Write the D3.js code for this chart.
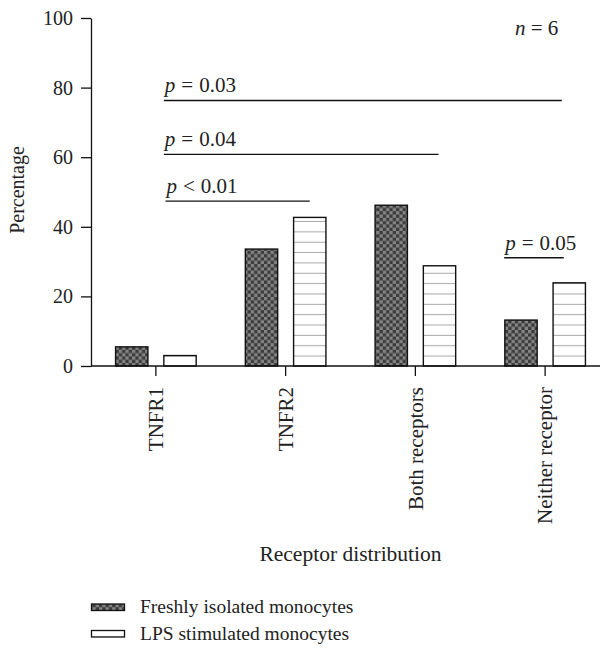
<!DOCTYPE html>
<html>
<head>
<meta charset="utf-8">
<script src="https://cdn.jsdelivr.net/npm/d3@7"></script>
<style>
  body { margin: 0; background: #fff; }
  svg text { font-family: "Liberation Serif", "Times New Roman", serif; fill: #222; }
</style>
</head>
<body>
<script>
// categories and series
const categories = ["TNFR1", "TNFR2", "Both receptors", "Neither receptor"];
const seriesNames = ["Freshly isolated monocytes", "LPS stimulated monocytes"];
const freshValues = [5.5, 33.6, 46.2, 13.2];
const lpsValues = [3.0, 42.7, 28.8, 23.9];
const yTicks = [0, 20, 40, 60, 80, 100];

// significance bars: level in percent units, ends given as bar + fraction of bar width
const sigLabels = ["0.03", "0.04", "0.01", "0.05"];
const sigOps = ["=", "=", "<", "="];
const sigLevels = [76.3, 60.8, 47.4, 31.1];
const sigFrom = [[0, 1, 0], [0, 1, 0], [0, 1, 0.05], [3, 0, -0.02]];
const sigTo = [[3, 1, 0.27], [2, 1, 0.47], [1, 1, 0.5], [3, 1, 0.33]];

const W = 606, H = 650;
const plotLeft = 91, plotRight = 610, plotTop = 18, plotBottom = 366;

const svg = d3.select("body").append("svg")
    .attr("width", W)
    .attr("height", H);

const defs = svg.append("defs");

// checker pattern for freshly isolated
const chk = defs.append("pattern")
    .attr("id", "checker")
    .attr("patternUnits", "userSpaceOnUse")
    .attr("width", 6.6).attr("height", 6.6);
chk.append("rect").attr("width", 6.6).attr("height", 6.6).attr("fill", "#3b3b3b");
chk.append("rect").attr("width", 3.3).attr("height", 3.3).attr("fill", "#858585");
chk.append("rect").attr("x", 3.3).attr("y", 3.3).attr("width", 3.3).attr("height", 3.3).attr("fill", "#858585");

// horizontal line pattern for LPS
function hatch(id, y0) {
    const p = defs.append("pattern")
        .attr("id", id)
        .attr("patternUnits", "userSpaceOnUse")
        .attr("width", 10).attr("height", 10.35)
        .attr("patternTransform", "translate(0," + y0 + ")");
    p.append("rect").attr("width", 10).attr("height", 10.35).attr("fill", "#fff");
    p.append("rect").attr("y", 9.35).attr("width", 10).attr("height", 1.6).attr("fill", "#a8a8a8");
}
hatch("lines", plotBottom + 0.9);
hatch("lines-legend", 637.6);

const x = d3.scaleBand()
    .domain(categories)
    .range([plotLeft, plotRight])
    .paddingInner(0).paddingOuter(0);

const xs = d3.scaleBand()
    .domain(seriesNames)
    .range([-40.3, 40.3])
    .paddingInner(0.33);

const y = d3.scaleLinear()
    .domain([0, 100])
    .range([plotBottom, plotTop]);

const seriesFill = ["url(#checker)", "url(#lines)"];
const seriesValues = [freshValues, lpsValues];

// bars
seriesNames.forEach((s, si) => {
    svg.append("g")
        .selectAll("rect")
        .data(categories)
        .join("rect")
        .attr("x", d => x(d) + x.bandwidth() / 2 + xs(s))
        .attr("y", (d, i) => y(seriesValues[si][i]))
        .attr("width", xs.bandwidth())
        .attr("height", (d, i) => y(0) - y(seriesValues[si][i]))
        .attr("fill", seriesFill[si])
        .attr("stroke", "#111")
        .attr("stroke-width", 1.4);
});

// y axis
const yAxis = d3.axisLeft(y).tickValues(yTicks).tickSize(10).tickSizeOuter(0).tickPadding(8);
const gy = svg.append("g")
    .attr("transform", "translate(" + plotLeft + ",0)")
    .call(yAxis);
gy.select(".domain").attr("stroke", "#111").attr("stroke-width", 1.3);
gy.selectAll(".tick line").attr("stroke", "#111").attr("stroke-width", 1.3);
gy.selectAll(".tick text")
    .attr("font-size", 20)
    .attr("fill", "#222");

// x axis
const xAxis = d3.axisBottom(x).tickSize(10).tickSizeOuter(0).tickPadding(12);
const gx = svg.append("g")
    .attr("transform", "translate(0," + plotBottom + ")")
    .call(xAxis);
gx.select(".domain").remove();
gx.append("line")
    .attr("x1", plotLeft).attr("x2", 600)
    .attr("stroke", "#111").attr("stroke-width", 1.3);
gx.selectAll(".tick line").attr("stroke", "#111").attr("stroke-width", 1.3);
gx.selectAll(".tick text")
    .attr("font-size", 21)
    .attr("fill", "#222")
    .attr("text-anchor", "end")
    .attr("transform", "rotate(-90)")
    .attr("x", -21)
    .attr("y", 0)
    .attr("dy", "0.35em");

// axis titles
svg.append("text")
    .attr("transform", "translate(24,190) rotate(-90)")
    .attr("text-anchor", "middle")
    .attr("font-size", 20)
    .text("Percentage");

svg.append("text")
    .attr("x", (x(categories[0]) + x(categories[3]) + x.bandwidth()) / 2)
    .attr("y", 561)
    .attr("text-anchor", "middle")
    .attr("font-size", 21.5)
    .text("Receptor distribution");

// n = 6
const nText = svg.append("text")
    .attr("x", 515).attr("y", 35)
    .attr("font-size", 21);
nText.append("tspan").attr("font-style", "italic").text("n");
nText.append("tspan").text(" = 6");

// significance lines
function barPos(spec) {
    const c = categories[spec[0]], s = seriesNames[spec[1]];
    return x(c) + x.bandwidth() / 2 + xs(s) + spec[2] * xs.bandwidth();
}
sigLabels.forEach((lab, i) => {
    const x1 = barPos(sigFrom[i]), x2 = barPos(sigTo[i]);
    const yy = y(sigLevels[i]);
    svg.append("line")
        .attr("x1", x1).attr("x2", x2)
        .attr("y1", yy).attr("y2", yy)
        .attr("stroke", "#111").attr("stroke-width", 1.3);
    const t = svg.append("text")
        .attr("x", x1 + 1).attr("y", yy - 8)
        .attr("font-size", 21);
    t.append("tspan").attr("font-style", "italic").text("p");
    t.append("tspan").attr("dx", 6).text(sigOps[i]);
    t.append("tspan").attr("dx", 6).text(lab);
});

// legend
const legendFill = ["url(#checker)", "url(#lines-legend)"];
const lg = svg.append("g");
seriesNames.forEach((s, i) => {
    const yy = 604 + i * 26.5;
    lg.append("rect")
        .attr("x", 91.5).attr("y", yy)
        .attr("width", 33).attr("height", 6.5)
        .attr("fill", legendFill[i])
        .attr("stroke", "#111").attr("stroke-width", 1.3);
    lg.append("text")
        .attr("x", 140).attr("y", yy + 9)
        .attr("font-size", 19.5)
        .text(s);
});
</script>
</body>
</html>
